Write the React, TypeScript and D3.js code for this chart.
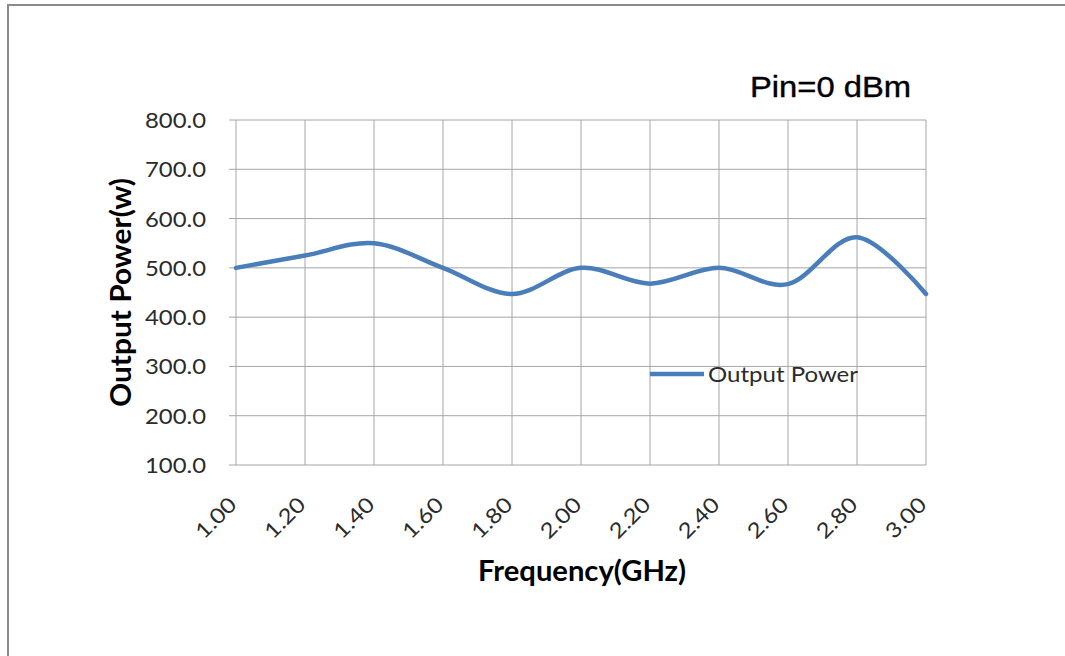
import React from "react";
import * as d3 from "d3";

const frequencies = [1.0, 1.2, 1.4, 1.6, 1.8, 2.0, 2.2, 2.4, 2.6, 2.8, 3.0];
const outputPower = [500, 525, 550, 500, 447, 500, 468, 500, 467, 562, 447];
const yTicks = [100, 200, 300, 400, 500, 600, 700, 800];
const xTicks = [1.0, 1.2, 1.4, 1.6, 1.8, 2.0, 2.2, 2.4, 2.6, 2.8, 3.0];
const seriesName = "Output Power";
const chartTitle = "Pin=0 dBm";
const xTitle = "Frequency(GHz)";
const yTitle = "Output Power(w)";

const W = 1065;
const H = 656;
const left = 236;
const right = 926;
const top = 120;
const bottom = 465;

export default function App() {
  const x = d3.scaleLinear().domain([1.0, 3.0]).range([left, right]);
  const y = d3.scaleLinear().domain([100, 800]).range([bottom, top]);
  const line = d3
    .line<number>()
    .x((_, i) => x(frequencies[i]))
    .y((d) => y(d))
    .curve(d3.curveCardinal.tension(0));
  const grid = "#a6a6a6";
  const font = "Lato, 'Open Sans', sans-serif";
  const labelFill = "#2b2b2b";
  return (
    <svg
      width={W}
      height={H}
      style={{ position: "absolute", left: 0, top: 0, background: "#fff" }}
    >
      <line x1={8} y1={5} x2={W} y2={5} stroke="#8a8a8a" strokeWidth={2} />
      <line x1={8} y1={4} x2={8} y2={H} stroke="#8a8a8a" strokeWidth={2} />
      {yTicks.map((t) => (
        <g key={"y" + t}>
          <line x1={left - 7} x2={right} y1={y(t)} y2={y(t)} stroke={grid} strokeWidth={1} />
          <text
            x={206}
            y={y(t) + 8}
            textAnchor="end"
            fontFamily={font}
            fontSize={21}
            fill={labelFill}
            textLength={61}
            lengthAdjust="spacingAndGlyphs"
          >
            {t.toFixed(1)}
          </text>
        </g>
      ))}
      {xTicks.map((t) => (
        <g key={"x" + t}>
          <line x1={x(t)} x2={x(t)} y1={top} y2={bottom} stroke={grid} strokeWidth={1} />
          <text
            transform={`translate(${x(t) + 2},${506}) rotate(-45)`}
            textAnchor="end"
            fontFamily={font}
            fontSize={21}
            fill={labelFill}
            textLength={48}
            lengthAdjust="spacingAndGlyphs"
          >
            {t.toFixed(2)}
          </text>
        </g>
      ))}
      <path
        d={line(outputPower) || ""}
        fill="none"
        stroke="#4a7ebb"
        strokeWidth={4.5}
        strokeLinecap="round"
      />
      <line x1={650} x2={704} y1={374} y2={374} stroke="#4a7ebb" strokeWidth={4.5} />
      <text
        x={708}
        y={382}
        fontFamily={font}
        fontSize={21}
        fill={labelFill}
        textLength={150}
        lengthAdjust="spacingAndGlyphs"
      >
        {seriesName}
      </text>
      <text
        x={750}
        y={97}
        fontFamily="'Liberation Sans', Arial, sans-serif"
        fontSize={30}
        fontWeight={500}
        fill="#000"
        stroke="#000"
        strokeWidth={0.4}
        textLength={161}
        lengthAdjust="spacingAndGlyphs"
      >
        {chartTitle}
      </text>
      <text
        x={582}
        y={581}
        textAnchor="middle"
        fontFamily={font}
        fontWeight="bold"
        fontSize={28}
        fill="#000"
        textLength={208}
        lengthAdjust="spacingAndGlyphs"
      >
        {xTitle}
      </text>
      <text
        transform={`translate(131,${(top + bottom) / 2}) rotate(-90)`}
        textAnchor="middle"
        fontFamily={font}
        fontWeight="bold"
        fontSize={29}
        fill="#000"
        textLength={229}
        lengthAdjust="spacingAndGlyphs"
      >
        {yTitle}
      </text>
    </svg>
  );
}
